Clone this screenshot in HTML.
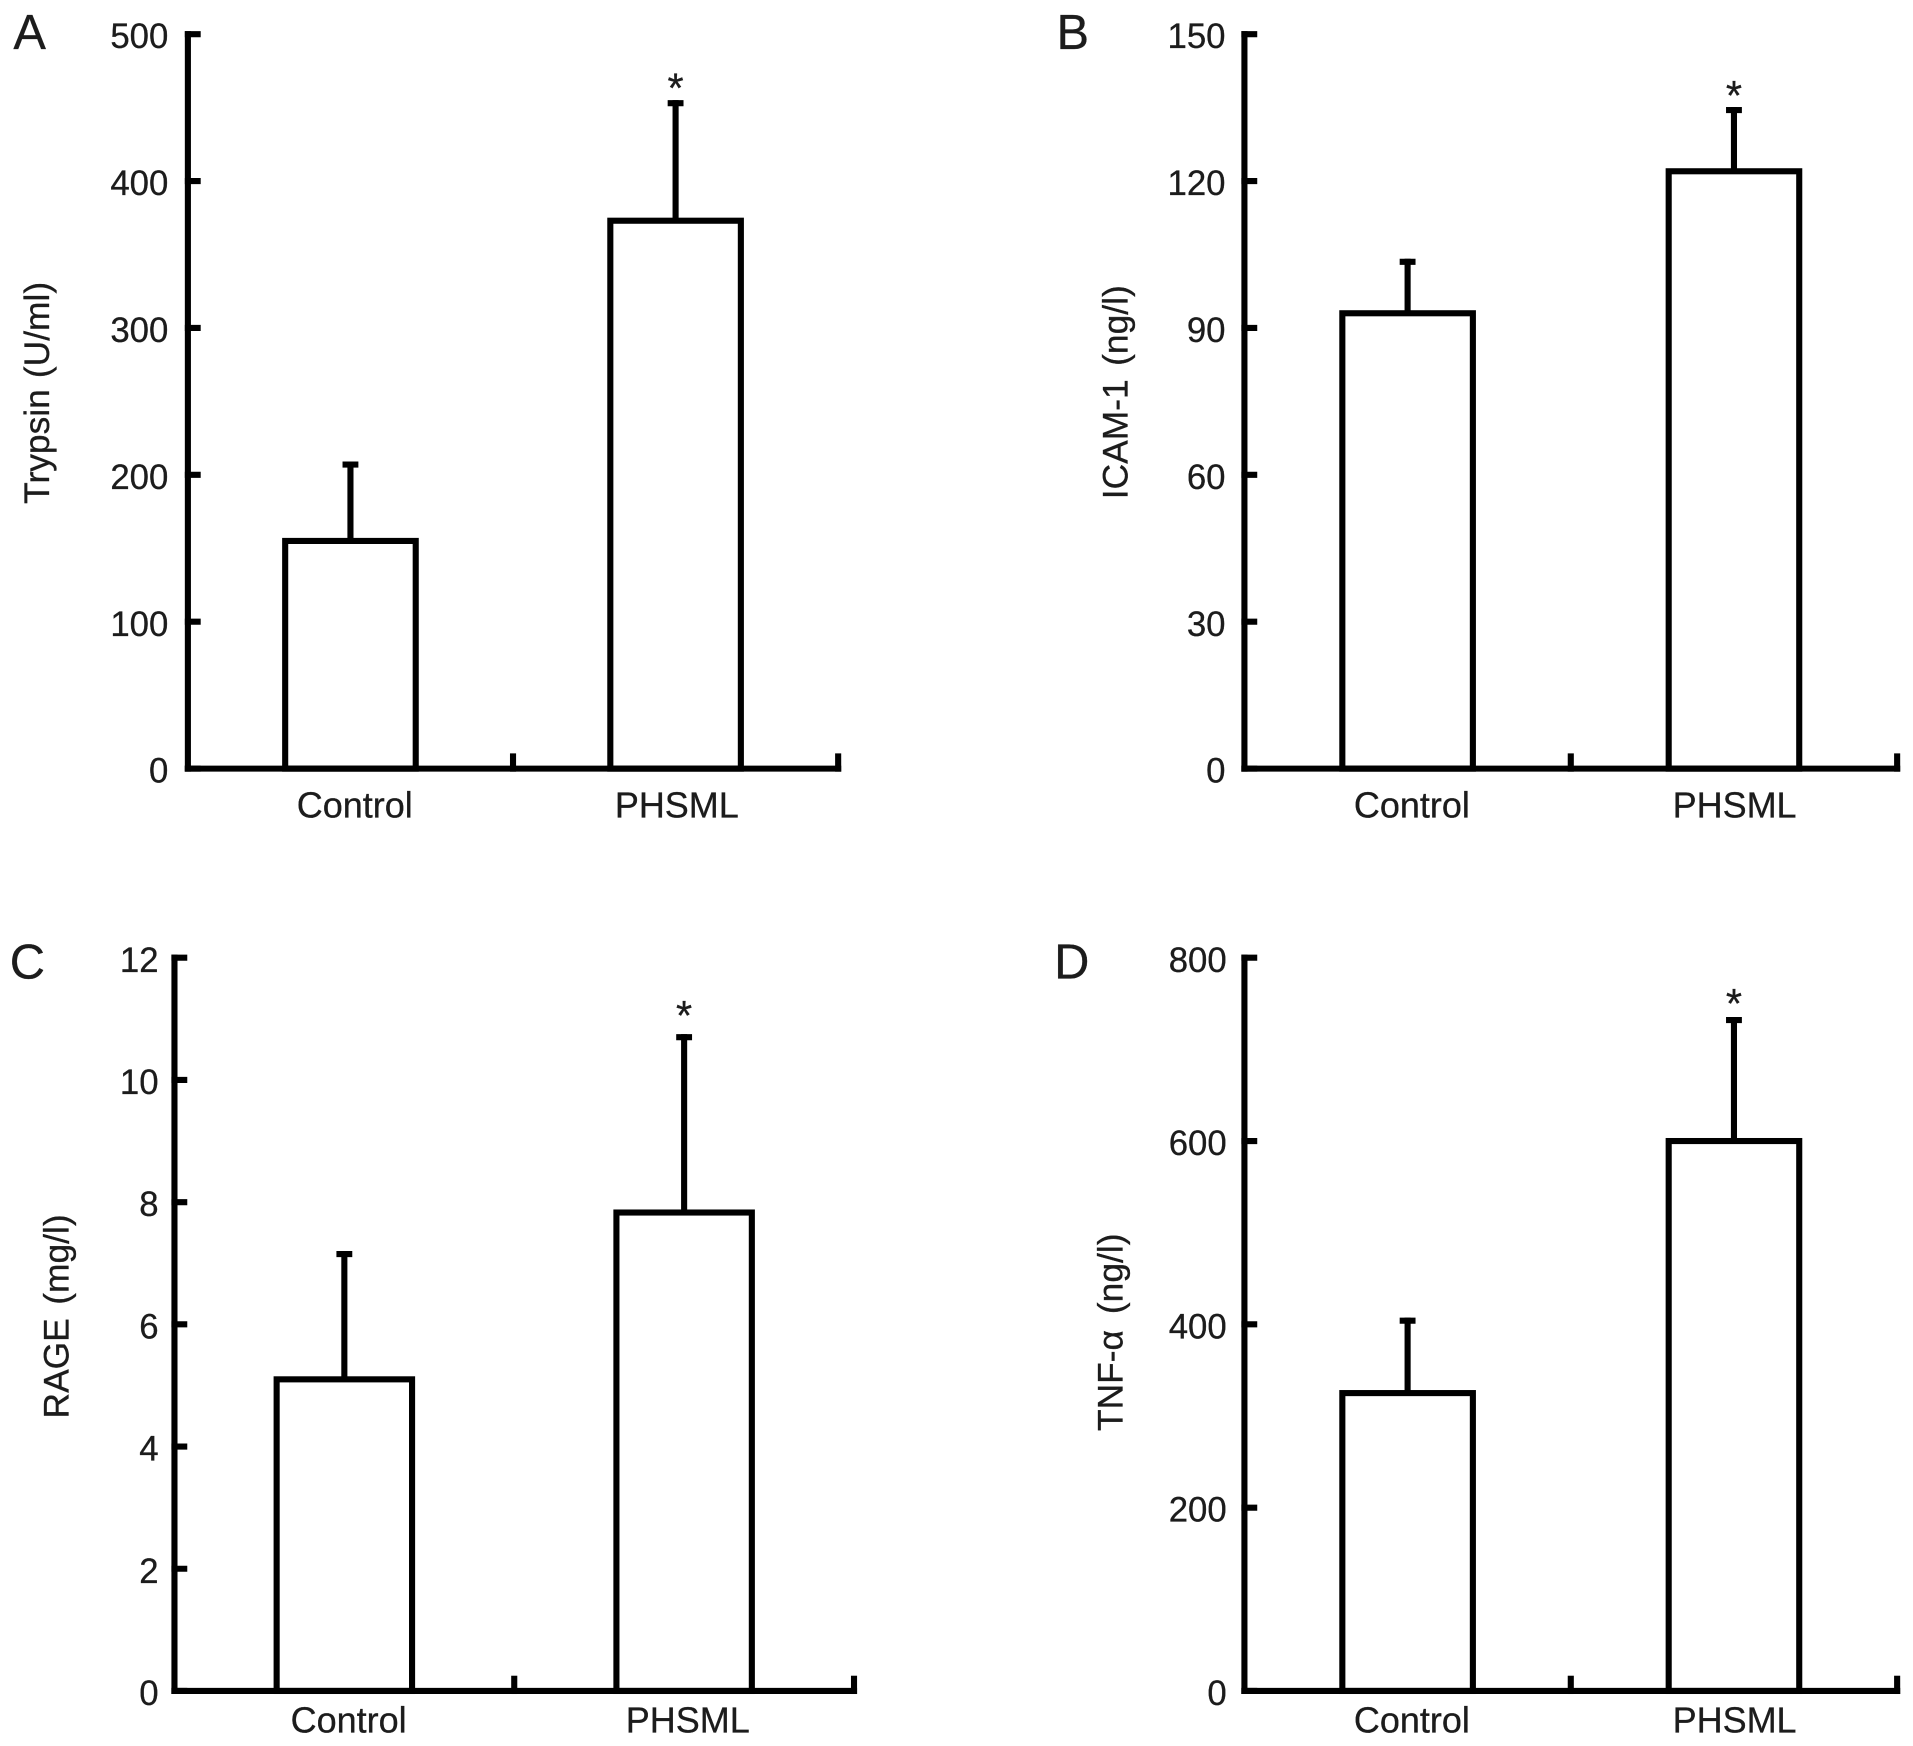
<!DOCTYPE html>
<html lang="en">
<head>
<meta charset="utf-8">
<title>Trypsin, ICAM-1, RAGE and TNF-alpha bar charts</title>
<style>
  html, body { margin: 0; padding: 0; background: #fff; }
  svg { display: block; }
  text { font-family: "Liberation Sans", sans-serif; fill: #1c1c1c; stroke: #1c1c1c; stroke-width: 0.25; }
</style>
</head>
<body>
<svg id="figure" xmlns="http://www.w3.org/2000/svg" width="1913" height="1746" viewBox="0 0 1568 1431.1"></svg>
<script>
// Shared categories
const categories = ["Control", "PHSML"];

// Panel A
const trypsinMeans = [155, 373];
const trypsinErrorTops = [207, 453];
const trypsinTicks = [0, 100, 200, 300, 400, 500];

// Panel B
const icamMeans = [93, 122];
const icamErrorTops = [103.5, 134.5];
const icamTicks = [0, 30, 60, 90, 120, 150];

// Panel C
const rageMeans = [5.1, 7.83];
const rageErrorTops = [7.15, 10.7];
const rageTicks = [0, 2, 4, 6, 8, 10, 12];

// Panel D
const tnfMeans = [325, 600];
const tnfErrorTops = [404, 732];
const tnfTicks = [0, 200, 400, 600, 800];

const NS = "http://www.w3.org/2000/svg";
const figure = document.getElementById("figure");
const STROKE = 5;

function line(parent, x1, y1, x2, y2, w) {
  const el = document.createElementNS(NS, "line");
  el.setAttribute("x1", x1);
  el.setAttribute("y1", y1);
  el.setAttribute("x2", x2);
  el.setAttribute("y2", y2);
  el.setAttribute("stroke", "#000");
  el.setAttribute("stroke-width", w || STROKE);
  el.setAttribute("stroke-linecap", "square");
  parent.appendChild(el);
  return el;
}

function label(parent, x, y, content, size, anchor) {
  const el = document.createElementNS(NS, "text");
  el.setAttribute("x", x);
  el.setAttribute("y", y);
  el.setAttribute("font-size", size);
  el.setAttribute("text-anchor", anchor || "start");
  el.textContent = content;
  parent.appendChild(el);
  return el;
}

function drawPanel(cfg) {
  const g = document.createElementNS(NS, "g");
  
  
  figure.appendChild(g);

  const maxTick = cfg.ticks[cfg.ticks.length - 1];
  const yScale = v => cfg.bottom - (v / maxTick) * (cfg.bottom - cfg.top);
  const band = (cfg.right - cfg.left) / categories.length;
  const xCenter = i => cfg.left + band * (i + 0.5);

  const panelLetter = label(g, cfg.letterX, cfg.letterY, cfg.letter, 40);
  
  

  const yTitle = label(g, 0, 0, cfg.title, 29, "middle");
  yTitle.setAttribute("transform", "translate(" + cfg.titleX + "," + cfg.titleY + ") rotate(-90)");
  yTitle.setAttribute("word-spacing", cfg.titleSpacing);
  
  

  categories.forEach((cat, i) => {
    const cx = xCenter(i);
    const yTop = yScale(cfg.means[i]);
    const yErr = yScale(cfg.errorTops[i]);

    const errStem = line(g, cx, yTop, cx, yErr);
    
    

    const errCap = line(g, cx - 4, yErr, cx + 4, yErr);
    
    

    const bar = document.createElementNS(NS, "rect");
    bar.setAttribute("x", cx - cfg.barWidth / 2);
    bar.setAttribute("y", yTop);
    bar.setAttribute("width", cfg.barWidth);
    bar.setAttribute("height", cfg.bottom - yTop);
    bar.setAttribute("fill", "#fff");
    bar.setAttribute("stroke", "#000");
    bar.setAttribute("stroke-width", STROKE);
    
    
    g.appendChild(bar);

    const catLabel = label(g, cx + cfg.labelDx[i], cfg.bottom + cfg.labelGap, cat, 29.5, "middle");
    
    
  });

  const star = label(g, xCenter(1), yScale(cfg.errorTops[1]) + cfg.starDy, "*", 34, "middle");
  
  

  const yAxis = line(g, cfg.left, cfg.top, cfg.left, cfg.bottom);
  
  

  const xAxis = line(g, cfg.left, cfg.bottom, cfg.right, cfg.bottom);
  
  

  cfg.ticks.forEach(t => {
    const y = yScale(t);
    const tickMark = line(g, cfg.left, y, cfg.left + 8, y);
    
    

    const tickLabel = label(g, cfg.left - cfg.tickGap, y + 11.5, String(t), 28.5, "end");
    
    
  });

  categories.forEach((cat, i) => {
    const x = cfg.left + band * (i + 1);
    const xTick = line(g, x, cfg.bottom, x, cfg.bottom - 10);
    
    
  });
}

drawPanel({
  letter: "A", letterX: 11, letterY: 40, title: "Trypsin (U/ml)", titleX: 40, titleY: 322, titleSpacing: 1,
  left: 154, right: 687, top: 28, bottom: 630, barWidth: 107, labelGap: 40, labelDx: [3.5, 1], starDy: -0.7, tickGap: 16,
  ticks: trypsinTicks, means: trypsinMeans, errorTops: trypsinErrorTops
});

drawPanel({
  letter: "B", letterX: 866, letterY: 40, title: "ICAM-1 (ng/l)", titleX: 924, titleY: 321.5, titleSpacing: 3,
  left: 1020, right: 1555, top: 28, bottom: 630, barWidth: 107, labelGap: 40, labelDx: [3.5, 0.5], starDy: 0, tickGap: 15.5,
  ticks: icamTicks, means: icamMeans, errorTops: icamErrorTops
});

drawPanel({
  letter: "C", letterX: 8, letterY: 802, title: "RAGE (mg/l)", titleX: 56, titleY: 1079, titleSpacing: 3,
  left: 143, right: 700, top: 785, bottom: 1386, barWidth: 111, labelGap: 34, labelDx: [3.5, 3], starDy: -5.7, tickGap: 13,
  ticks: rageTicks, means: rageMeans, errorTops: rageErrorTops
});

drawPanel({
  letter: "D", letterX: 864, letterY: 802, title: "TNF-\u03B1 (ng/l)", titleX: 920, titleY: 1092, titleSpacing: 5,
  left: 1020, right: 1555, top: 785, bottom: 1386, barWidth: 107, labelGap: 34, labelDx: [3.5, 0.5], starDy: -1.7, tickGap: 14.5,
  ticks: tnfTicks, means: tnfMeans, errorTops: tnfErrorTops
});
</script>
</body>
</html>
